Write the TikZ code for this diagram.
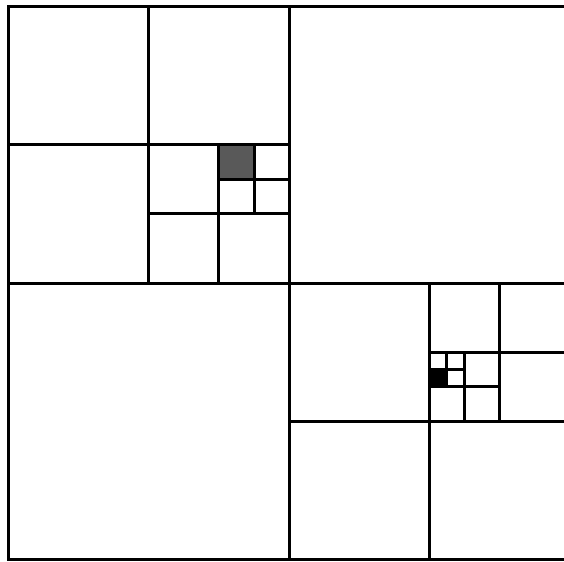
\documentclass[tikz,border=0pt]{standalone}
\begin{document}
\begin{tikzpicture}[
  x=35pt, y=34.6pt, line width=3pt,
  greycell/.style={draw, fill=black!65},
  blackcell/.style={draw, fill=black},
]
  \clip (-8.257,-8.06) rectangle (7.857,8.18);
  % outer frame (right side lies outside the picture)
  \draw (8,8) -- (-8,8) -- (-8,-8) -- (8,-8);
  % main cross
  \draw (-8,0) -- (8,0);
  \draw (0,-8) -- (0,8);

  % upper left quadrant
  \draw (-8,4) -- (0,4);
  \draw (-4,0) -- (-4,8);
  \draw (-4,2) -- (0,2);
  \draw (-2,0) -- (-2,4);
  \draw (-2,3) -- (0,3);
  \draw (-1,2) -- (-1,4);
  \draw[greycell] (-2,3) rectangle (-1,4);

  % lower right quadrant
  \draw (4,-8) -- (4,0);
  \draw (0,-4) -- (8,-4);
  \draw (4,-2) -- (8,-2);
  \draw (6,-4) -- (6,0);
  \draw (4,-3) -- (6,-3);
  \draw (5,-4) -- (5,-2);
  \draw (4,-2.5) -- (5,-2.5);
  \draw (4.5,-3) -- (4.5,-2);
  \draw[blackcell] (4,-3) rectangle (4.5,-2.5);
\end{tikzpicture}
\end{document}
